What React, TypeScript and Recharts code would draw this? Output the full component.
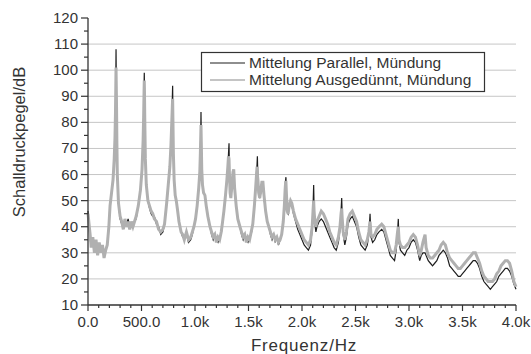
import { LineChart, Line, XAxis, YAxis, CartesianGrid } from 'recharts';

// Frequenz in Hz (Stützstellen, an den Resonanzspitzen dichter)
const freqHz = [
  0, 10, 20, 30, 45, 60, 75, 90, 105, 120, 135, 150, 165, 180,
  195, 206, 220, 234, 245, 252, 257, 260, 262, 264, 267, 270, 274, 285, 300,
  315, 330, 345, 360, 375, 390, 405, 420, 435, 450,
  470, 490, 505, 515, 520, 524, 526, 528, 531, 536, 545, 560, 575, 590,
  605, 620, 640, 660, 680, 700, 715,
  735, 750, 765, 775, 783, 788, 791, 794, 798, 805, 815, 825, 835, 850, 870,
  885, 900, 920, 940, 960, 975, 990,
  1005, 1020, 1035, 1045, 1050, 1054, 1056, 1059, 1063, 1070, 1080, 1093, 1105, 1120, 1140,
  1155, 1170, 1185, 1200, 1215, 1230, 1245, 1255,
  1270, 1285, 1298, 1307, 1313, 1318, 1322, 1328, 1335, 1345, 1355, 1362, 1370, 1385, 1400, 1420,
  1435, 1450, 1465, 1480, 1495, 1510, 1525,
  1540, 1555, 1567, 1575, 1580, 1583, 1588, 1595, 1605, 1615, 1625, 1635, 1645, 1660, 1675, 1690,
  1705, 1720, 1735, 1750, 1765, 1780, 1795, 1810,
  1825, 1835, 1842, 1847, 1850, 1855, 1862, 1870, 1880, 1893, 1905, 1920, 1940, 1960, 1980, 2000, 2020, 2040, 2060, 2080, 2095,
  2103, 2109, 2113, 2120, 2130, 2140, 2160, 2180, 2200, 2220, 2240, 2260, 2280, 2300, 2320, 2340, 2355,
  2365, 2371, 2376, 2385, 2400, 2415, 2430, 2450, 2470, 2490, 2510, 2530, 2550, 2570, 2590, 2610, 2625,
  2636, 2645, 2660, 2680, 2700, 2720, 2745, 2765, 2785, 2805, 2825, 2845, 2865, 2880, 2893,
  2900, 2907, 2920, 2940, 2960, 2980, 3000, 3020, 3040, 3060,
  3080, 3100, 3115, 3130, 3150, 3160, 3180, 3200, 3220, 3240,
  3260, 3280, 3300, 3320, 3340, 3360, 3380, 3400, 3420, 3440,
  3460, 3480, 3500, 3520, 3540, 3560, 3580, 3600, 3620, 3640,
  3660, 3680, 3700, 3720, 3740, 3760, 3780, 3800, 3820, 3840,
  3860, 3880, 3900, 3920, 3940, 3960, 3980, 4000,
];

// Mittelung Parallel, Mündung (dB)
const parallelDb = [
  46, 40, 35, 33, 34, 31, 33, 30, 32, 31, 31, 30, 31, 33,
  40, 48, 53, 58, 66, 75, 86, 97, 108, 98, 86, 72, 60, 49, 43,
  41, 40, 42, 41, 43, 40, 41, 41, 42, 43,
  48, 54, 62, 73, 83, 94, 99, 93, 81, 66, 56, 50, 47, 45,
  44, 44, 41, 40, 37, 38, 41,
  49, 56, 63, 71, 81, 89, 94, 82, 68, 58, 52, 50, 47, 42, 38,
  36, 36, 37, 34, 35, 37, 40,
  43, 48, 55, 61, 68, 77, 84, 73, 62, 56, 53, 52, 48, 44, 40,
  37, 35, 37, 35, 34, 36, 37, 41,
  46, 52, 58, 63, 68, 72, 60, 53, 51, 55, 58, 58, 54, 48, 43, 40,
  37, 35, 37, 35, 34, 36, 37,
  41, 48, 55, 61, 64, 67, 58, 53, 51, 53, 55, 55, 51, 46, 42, 40,
  37, 35, 37, 34, 36, 33, 35, 37,
  42, 48, 54, 58, 59, 52, 46, 45, 47, 49, 48, 45, 42, 39, 37, 35, 33, 32, 31, 33, 39,
  47, 56, 47, 41, 38, 40, 42, 43, 42, 40, 38, 36, 34, 32, 31, 34, 39,
  46, 51, 44, 37, 33, 36, 41, 43, 44, 42, 40, 36, 33, 32, 31, 33, 37,
  45, 36, 34, 35, 37, 38, 39, 38, 35, 32, 29, 28, 27, 31, 38,
  43, 34, 31, 30, 29, 31, 32, 34, 35, 34,
  31, 27, 29, 30, 30, 29, 27, 26, 25, 26,
  27, 29, 30, 31, 30, 28, 25, 24, 23, 22,
  21, 21, 22, 23, 24, 25, 26, 27, 27, 26,
  24, 21, 19, 18, 17, 16, 17, 18, 19, 21,
  22, 23, 24, 24, 23, 21, 18, 16,
];

// Mittelung Ausgedünnt, Mündung (dB)
const ausgeduenntDb = [
  45, 41, 37, 32, 36, 30, 35, 29, 34, 30, 33, 28, 31, 33,
  40, 48, 53, 58, 66, 74, 84, 94, 101, 95, 85, 72, 60, 49, 44,
  42, 39, 43, 40, 42, 39, 42, 40, 42, 44,
  48, 54, 62, 73, 82, 92, 96, 91, 80, 66, 56, 50, 48, 46,
  45, 43, 42, 39, 38, 39, 41,
  49, 56, 63, 71, 80, 86, 89, 80, 68, 58, 52, 50, 47, 42, 38,
  37, 35, 38, 35, 36, 38, 40,
  43, 48, 55, 61, 68, 75, 79, 72, 62, 56, 53, 52, 48, 44, 40,
  38, 36, 37, 34, 36, 35, 38, 41,
  46, 52, 58, 63, 67, 66, 60, 53, 51, 56, 61, 62, 55, 48, 43, 40,
  38, 36, 37, 34, 36, 35, 38,
  41, 48, 55, 60, 63, 60, 58, 53, 51, 54, 57, 57, 52, 46, 42, 40,
  38, 36, 37, 35, 36, 34, 35, 37,
  42, 48, 54, 57, 57, 52, 46, 45, 48, 50, 49, 46, 43, 41, 39, 37, 35, 34, 33, 35, 40,
  46, 50, 46, 42, 40, 42, 44, 46, 45, 43, 41, 38, 36, 34, 33, 36, 40,
  45, 47, 43, 38, 35, 38, 43, 45, 46, 44, 42, 38, 35, 34, 33, 35, 38,
  42, 37, 36, 37, 39, 40, 41, 40, 37, 34, 31, 30, 30, 33, 38,
  40, 35, 33, 32, 32, 33, 34, 36, 37, 36,
  33, 29, 31, 34, 37, 32, 29, 28, 28, 29,
  30, 31, 33, 34, 33, 30, 28, 27, 26, 25,
  24, 24, 25, 26, 27, 28, 29, 30, 30, 28,
  26, 23, 21, 20, 19, 19, 19, 20, 22, 23,
  25, 26, 27, 27, 26, 23, 19, 17,
];

const xMajorTicks = [0, 500, 1000, 1500, 2000, 2500, 3000, 3500, 4000];
const xTickLabels = ['0.0', '500.0', '1.0k', '1.5k', '2.0k', '2.5k', '3.0k', '3.5k', '4.0k'];
const yMajorTicks = [10, 20, 30, 40, 50, 60, 70, 80, 90, 100, 110, 120];
const gridLevels = [20, 30, 40, 50, 60, 70, 80, 90, 100, 110];

const xTicks = Array.from({ length: 41 }, (_, i) => i * 100);
const yTicks = Array.from({ length: 23 }, (_, i) => 10 + i * 5);

const data = freqHz.map((f, i) => ({ f, p: parallelDb[i], a: ausgeduenntDb[i] }));

const FONT = '"Liberation Sans", Arial, sans-serif';
const INK = '#333';

function XTick(props: any) {
  const { x, y, payload } = props;
  const idx = xMajorTicks.indexOf(payload.value);
  const major = idx >= 0;
  return (
    <g>
      <line x1={x} x2={x} y1={y} y2={y + (major ? 6 : 3)} stroke={INK} strokeWidth={1.2} />
      {major && (
        <text x={x} y={y + 22} textAnchor="middle" fontSize={15} fill={INK} fontFamily={FONT}>
          {xTickLabels[idx]}
        </text>
      )}
    </g>
  );
}

function YTick(props: any) {
  const { x, y, payload } = props;
  const major = yMajorTicks.includes(payload.value);
  return (
    <g>
      <line x1={x - (major ? 7 : 4)} x2={x} y1={y} y2={y} stroke={INK} strokeWidth={1.2} />
      {major && (
        <text x={x - 10} y={y + 5} textAnchor="end" fontSize={15} fill={INK} fontFamily={FONT}>
          {payload.value}
        </text>
      )}
    </g>
  );
}

export default function App() {
  return (
    <div style={{ position: 'fixed', left: 0, top: 0, width: 531, height: 354, background: '#fff' }}>
      <LineChart width={531} height={354} data={data} margin={{ top: 18, right: 15, bottom: 19, left: 28 }}>
        <CartesianGrid vertical={false} horizontalValues={gridLevels} stroke="#c6c6c6" />
        <XAxis
          dataKey="f"
          type="number"
          domain={[0, 4000]}
          ticks={xTicks}
          interval={0}
          height={30}
          tickSize={0}
          tickMargin={0}
          tickLine={false}
          tick={<XTick />}
          axisLine={{ stroke: INK, strokeWidth: 1.3 }}
        />
        <YAxis
          type="number"
          domain={[10, 120]}
          ticks={yTicks}
          interval={0}
          width={60}
          tickSize={0}
          tickMargin={0}
          tickLine={false}
          tick={<YTick />}
          axisLine={{ stroke: INK, strokeWidth: 1.3 }}
        />
        <Line type="linear" dataKey="p" stroke="#1e1e1e" strokeWidth={1.2} dot={false} isAnimationActive={false} />
        <Line type="linear" dataKey="a" stroke="#b0b0b0" strokeWidth={3} dot={false} isAnimationActive={false} />
      </LineChart>
      <svg width={531} height={354} style={{ position: 'absolute', left: 0, top: 0, pointerEvents: 'none' }}>
        <rect x={201.5} y={52.5} width={283} height={39} fill="#fff" stroke={INK} strokeWidth={1.2} />
        <line x1={210} x2={245} y1={63} y2={63} stroke="#1e1e1e" strokeWidth={1.2} />
        <line x1={210} x2={245} y1={80} y2={80} stroke="#b0b0b0" strokeWidth={1.5} />
        <text x={249} y={68} fontSize={15.5} fill={INK} fontFamily={FONT}>Mittelung Parallel, Mündung</text>
        <text x={249} y={85} fontSize={15.5} fill={INK} fontFamily={FONT}>Mittelung Ausgedünnt, Mündung</text>
        <text
          x={19}
          y={142}
          transform="rotate(-90 19 142)"
          textAnchor="middle"
          dominantBaseline="central"
          fontSize={16.5}
          fill={INK}
          fontFamily={FONT}
        >
          Schalldruckpegel/dB
        </text>
        <text x={304} y={351} textAnchor="middle" fontSize={17} letterSpacing={0.8} fill={INK} fontFamily={FONT}>
          Frequenz/Hz
        </text>
      </svg>
    </div>
  );
}
